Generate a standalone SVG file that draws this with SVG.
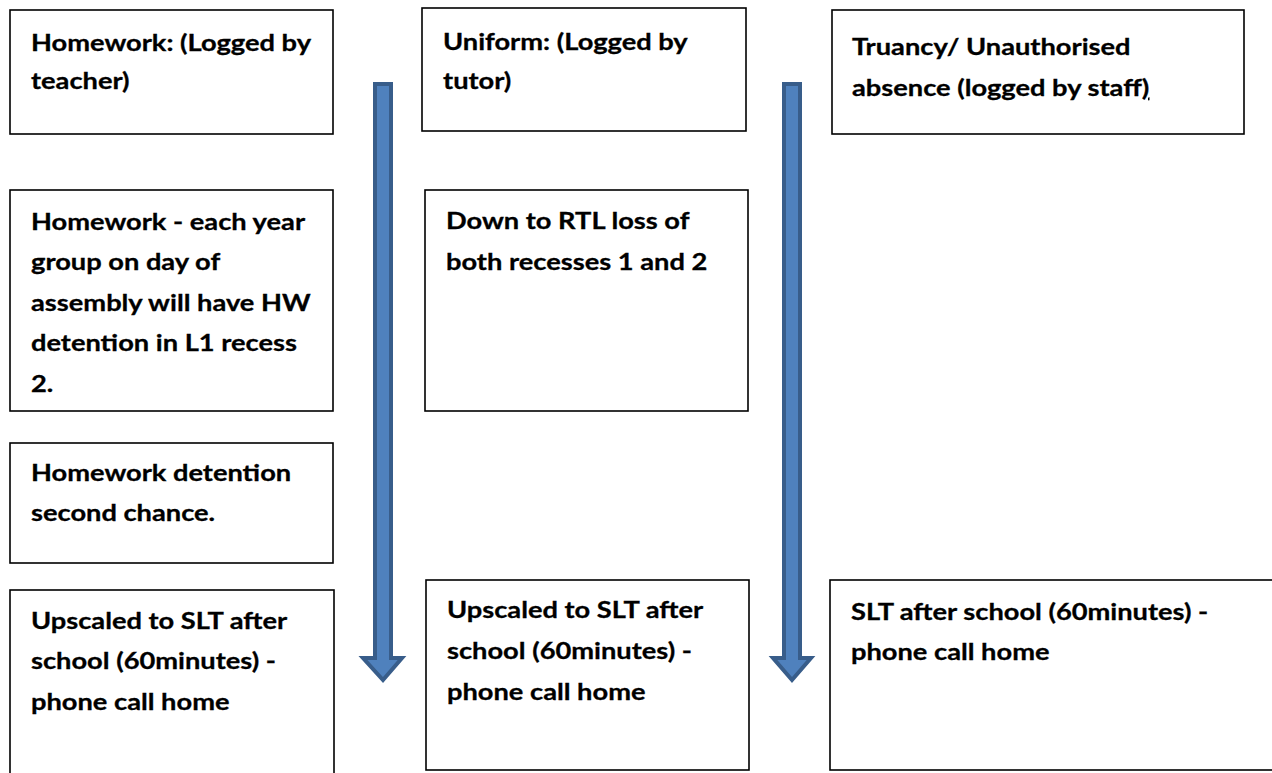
<svg xmlns="http://www.w3.org/2000/svg" width="1272" height="773" viewBox="0 0 1272 773">
<style>
.box{fill:#fff;stroke:#000;stroke-width:1.6}
.t{font-family:Lato,"Liberation Sans",sans-serif;font-weight:bold;font-size:23px;fill:#000;stroke:#000;stroke-width:0.3}
.arr{fill:#4F81BD;stroke:#385D8A;stroke-width:4;stroke-linejoin:miter}
</style>
<rect width="1272" height="773" fill="#fff"/>
<g id="connectors">
<polygon class="arr" points="375,84 391,84 391,658 402,658 383,680 363,658 375,658"/>
<polygon class="arr" points="784,84 800,84 800,658 811,658 792,680 773,658 784,658"/>
</g>
<g id="n1"><rect class="box" x="10" y="10" width="323" height="124"/>
<g transform="translate(31 0) scale(1.185 1)">
<text class="t" x="0" y="51">Homework: (Logged by</text>
<text class="t" x="0" y="89">teacher)</text></g></g>
<g id="n2"><rect class="box" x="422" y="8" width="324" height="123"/>
<g transform="translate(443 0) scale(1.185 1)">
<text class="t" x="0" y="50">Uniform: (Logged by</text>
<text class="t" x="0" y="89">tutor)</text></g></g>
<g id="n3"><rect class="box" x="832" y="10" width="412" height="124"/>
<g transform="translate(852 0) scale(1.185 1)">
<text class="t" x="0" y="55">Truancy/ Unauthorised</text>
<text class="t" x="0" y="96">absence (logged by staff<tspan text-decoration="underline">)</tspan></text></g></g>
<g id="n4"><rect class="box" x="10" y="190" width="323" height="221"/>
<g transform="translate(31 0) scale(1.185 1)">
<text class="t" x="0" y="230">Homework - each year</text>
<text class="t" x="0" y="270.5">group on day of</text>
<text class="t" x="0" y="311">assembly will have HW</text>
<text class="t" x="0" y="351.5">detention in L1 recess</text>
<text class="t" x="0" y="392">2.</text></g></g>
<g id="n5"><rect class="box" x="425" y="190" width="323" height="221"/>
<g transform="translate(446 0) scale(1.185 1)">
<text class="t" x="0" y="229">Down to RTL loss of</text>
<text class="t" x="0" y="270">both recesses 1 and 2</text></g></g>
<g id="n6"><rect class="box" x="10" y="443" width="323" height="120"/>
<g transform="translate(31 0) scale(1.185 1)">
<text class="t" x="0" y="481">Homework detention</text>
<text class="t" x="0" y="521">second chance.</text></g></g>
<g id="n7"><rect class="box" x="10" y="590" width="324" height="195"/>
<g transform="translate(31 0) scale(1.185 1)">
<text class="t" x="0" y="629">Upscaled to SLT after</text>
<text class="t" x="0" y="669">school (60minutes) -</text>
<text class="t" x="0" y="710">phone call home</text></g></g>
<g id="n8"><rect class="box" x="426" y="580" width="323" height="190"/>
<g transform="translate(447 0) scale(1.185 1)">
<text class="t" x="0" y="618">Upscaled to SLT after</text>
<text class="t" x="0" y="659">school (60minutes) -</text>
<text class="t" x="0" y="700">phone call home</text></g></g>
<g id="n9"><rect class="box" x="830" y="580" width="460" height="190"/>
<g transform="translate(851 0) scale(1.185 1)">
<text class="t" x="0" y="620">SLT after school (60minutes) -</text>
<text class="t" x="0" y="660">phone call home</text></g></g>
</svg>
